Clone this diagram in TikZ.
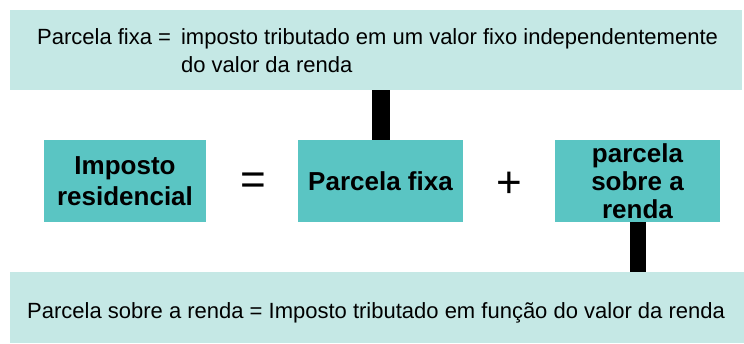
\documentclass[tikz,border=0pt]{standalone}
\usepackage{fontspec}
\setmainfont{Liberation Sans}
\definecolor{notecolor}{RGB}{197,232,229}
\definecolor{termcolor}{RGB}{90,197,195}

\begin{document}
\begin{tikzpicture}[x=1pt,y=-1pt]
        \tikzset{note/.style = {shape=rectangle,fill=notecolor,inner sep=0pt}}
        \tikzset{notetext/.style = {inner sep=0pt,anchor=base west,font=\fontsize{22}{28}\selectfont}}
        \tikzset{term/.style = {shape=rectangle,fill=termcolor,inner sep=0pt,minimum width=165pt,minimum height=82pt,align=center}}
        \tikzset{sign/.style = {inner sep=0pt,font=\fontsize{44}{44}\selectfont}}
        \tikzset{bar/.style = {line width=18pt}}
        \useasboundingbox (0,0) rectangle (744,343);
        \node[note,minimum width=732pt,minimum height=80pt] (topnote) at (376,50) {};
        \node[note,minimum width=734pt,minimum height=71pt] (botnote) at (377,307.5) {};
        \node[notetext] (toptext) at (37,44) {\begin{tabular}[t]{@{}l@{\hspace{10pt}}l@{}}Parcela fixa = & imposto tributado em um valor fixo independentemente\\ & do valor da renda\end{tabular}};
        \node[notetext] (bottext) at (27,318) {Parcela sobre a renda = Imposto tributado em função do valor da renda};
        \node[term,minimum width=162pt,font=\fontsize{26}{31}\selectfont\bfseries] (imposto) at (125,181) {Imposto\\residencial};
        \node[term,font=\fontsize{26}{31}\selectfont\bfseries] (pfixa) at (380.5,181) {Parcela fixa};
        \node[term,font=\fontsize{26}{28}\selectfont\bfseries] (prenda) at (637.5,181) {parcela\\sobre a\\renda};
        \node[sign] (eq) at (253.5,183.5) {=};
        \node[sign] (plus) at (509.5,184.5) {+};
        \draw[bar] (pfixa.north) -- (pfixa.north |- topnote.south);
        \draw[bar,line width=16pt] (prenda.south) -- (prenda.south |- botnote.north);
\end{tikzpicture}
\end{document}
